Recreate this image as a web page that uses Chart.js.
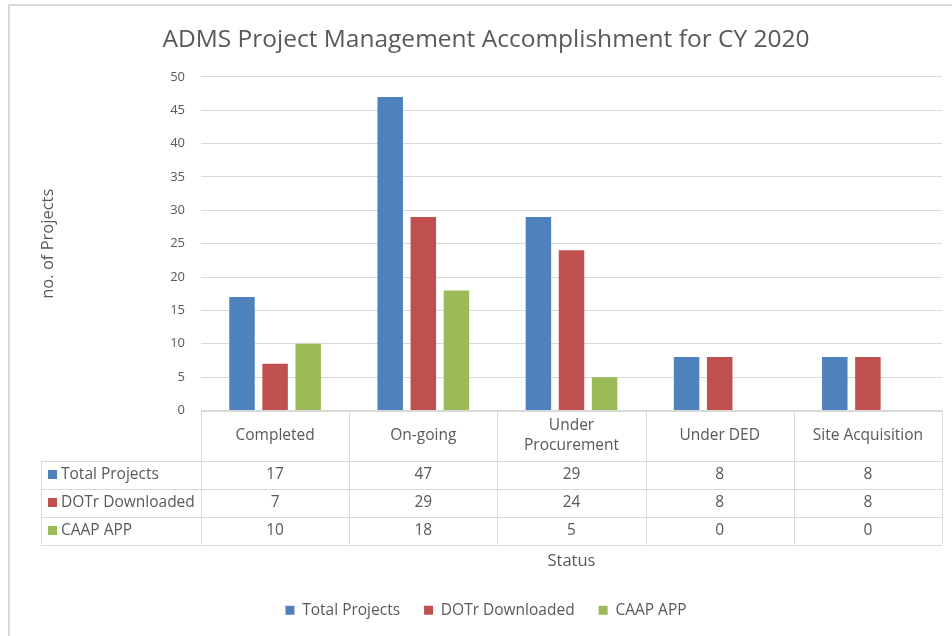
<!DOCTYPE html>
<html>
<head>
<meta charset="utf-8">
<script src="https://cdn.jsdelivr.net/npm/chart.js@4"></script>
<style>
  html, body { margin: 0; padding: 0; background: #fff; }
  #wrap { position: relative; width: 952px; height: 636px; overflow: hidden; }
  #frame { position: absolute; left: 8px; top: 4px; right: -10px; bottom: -10px;
           border-left: 2px solid #d9d9d9; border-top: 2px solid #d9d9d9; pointer-events: none; }
</style>
</head>
<body>
<div id="wrap">
  <canvas id="myChart" width="952" height="636"></canvas>
  <div id="frame"></div>
</div>
<script>
// dados do gráfico
const chartTitle = 'ADMS Project Management Accomplishment for CY 2020';
const statusLabels = ['Completed', 'On-going', ['Under', 'Procurement'], 'Under DED', 'Site Acquisition'];
const seriesNames = ['Total Projects', 'DOTr Downloaded', 'CAAP APP'];
const totalProjects = [17, 47, 29, 8, 8];
const dotrDownloaded = [7, 29, 24, 8, 8];
const caapApp = [10, 18, 5, 0, 0];
const yMin = 0, yMax = 50, yStep = 5;

const colors = ['#4F81BD', '#C0504D', '#9BBB59'];
const textColor = '#595959';
const lineColor = '#d9d9d9';
const fontFamily = '"Open Sans", "DejaVu Sans", sans-serif';

// tabela de dados abaixo do gráfico (como no Excel)
const dataTablePlugin = {
  id: 'dataTable',
  afterDraw(chart) {
    const ctx = chart.ctx;
    const xs = chart.scales.x;
    const area = chart.chartArea;
    const series = chart.data.datasets;
    const n = chart.data.labels.length;
    const colW = area.width / n;
    const headTop = area.bottom;
    const headH = 50;
    const rowH = 28;
    const tableLeft = 41;
    const tableBottom = headTop + headH + rowH * series.length;

    ctx.save();
    ctx.strokeStyle = lineColor;
    ctx.lineWidth = 1;
    ctx.beginPath();
    // linhas horizontais
    ctx.moveTo(area.left, Math.round(headTop) + 0.5);
    ctx.lineTo(area.right, Math.round(headTop) + 0.5);
    for (let r = 0; r <= series.length; r++) {
      const y = Math.round(headTop + headH + r * rowH) + 0.5;
      ctx.moveTo(tableLeft, y);
      ctx.lineTo(area.right, y);
    }
    // linhas verticais
    ctx.moveTo(tableLeft + 0.5, headTop + headH);
    ctx.lineTo(tableLeft + 0.5, tableBottom);
    for (let i = 0; i <= n; i++) {
      const x = Math.round(area.left + i * colW) + 0.5;
      ctx.moveTo(x, headTop);
      ctx.lineTo(x, tableBottom);
    }
    ctx.stroke();

    ctx.fillStyle = textColor;
    ctx.font = '15.5px ' + fontFamily;
    ctx.textAlign = 'center';
    ctx.textBaseline = 'middle';
    // cabeçalho com as categorias
    chart.data.labels.forEach((lab, i) => {
      const x = xs.getPixelForValue(i);
      const lines = Array.isArray(lab) ? lab : [lab];
      const cy = headTop + headH / 2;
      lines.forEach((t, k) => {
        ctx.fillText(t, x, cy + (k - (lines.length - 1) / 2) * 20);
      });
    });
    // linhas de valores
    series.forEach((ds, r) => {
      const cy = headTop + headH + r * rowH + rowH / 2;
      ctx.fillStyle = ds.backgroundColor;
      ctx.fillRect(tableLeft + 7, cy - 4.5, 9, 9);
      ctx.fillStyle = textColor;
      ctx.textAlign = 'left';
      ctx.fillText(ds.label, tableLeft + 20, cy);
      ctx.textAlign = 'center';
      ds.data.forEach((v, i) => {
        ctx.fillText(String(v), xs.getPixelForValue(i), cy);
      });
    });
    ctx.restore();
  }
};

const ctx = document.getElementById('myChart').getContext('2d');
const myChart = new Chart(ctx, {
  type: 'bar',
  data: {
    labels: statusLabels,
    datasets: [
      { label: seriesNames[0], data: totalProjects, backgroundColor: colors[0] },
      { label: seriesNames[1], data: dotrDownloaded, backgroundColor: colors[1] },
      { label: seriesNames[2], data: caapApp, backgroundColor: colors[2] }
    ]
  },
  options: {
    responsive: false,
    animation: false,
    layout: { padding: { left: 30, right: 10, top: 0, bottom: 8 } },
    datasets: {
      bar: { categoryPercentage: 0.67, barPercentage: 0.77 }
    },
    plugins: {
      title: {
        display: true,
        text: chartTitle,
        color: textColor,
        font: { family: fontFamily, size: 24.5, weight: 'normal' },
        padding: { top: 25, bottom: 22.5 }
      },
      legend: {
        position: 'bottom',
        labels: {
          boxWidth: 9,
          boxHeight: 9,
          padding: 24,
          color: textColor,
          font: { family: fontFamily, size: 15.5 }
        }
      },
      tooltip: { enabled: false }
    },
    scales: {
      x: {
        grid: { display: false },
        border: { display: false },
        ticks: { display: false },
        title: {
          display: true,
          text: 'Status',
          color: textColor,
          font: { family: fontFamily, size: 16.5 },
          padding: { top: 0, bottom: 7 }
        },
        afterFit(scale) { scale.height = 168; }
      },
      y: {
        min: yMin,
        max: yMax,
        grid: { color: lineColor, drawTicks: false },
        border: { display: false },
        ticks: {
          stepSize: yStep,
          padding: 16,
          color: textColor,
          font: { family: fontFamily, size: 13 }
        },
        title: {
          display: true,
          text: 'no. of Projects',
          color: textColor,
          font: { family: fontFamily, size: 16.5 },
          padding: { top: 8, bottom: 0 }
        },
        afterFit(scale) { scale.width = 171; }
      }
    }
  },
  plugins: [dataTablePlugin]
});
</script>
</body>
</html>
